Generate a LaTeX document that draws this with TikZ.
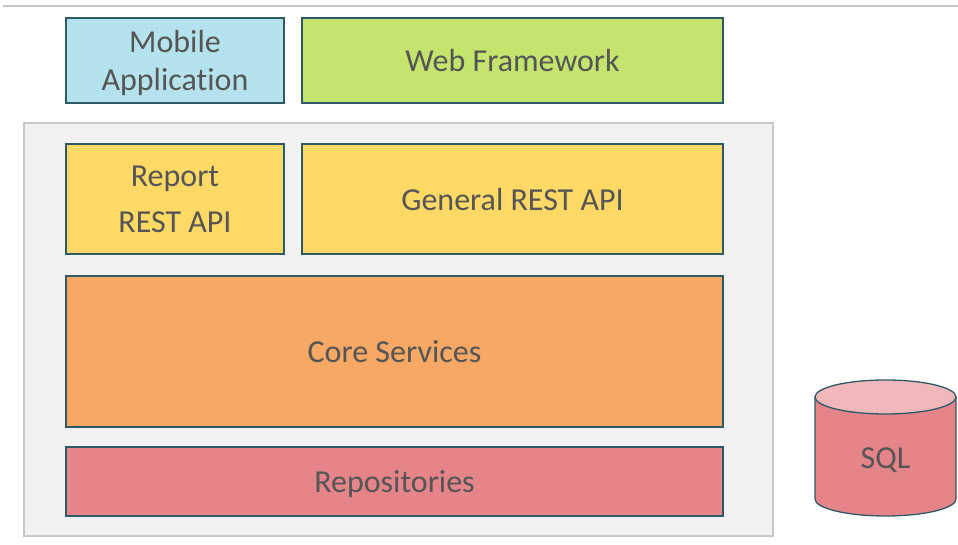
\documentclass[tikz,border=0pt]{standalone}
\usepackage{fontspec}
\setmainfont{Carlito}[Ligatures={NoCommon}]
\definecolor{txt}{HTML}{555555}
\definecolor{edge}{HTML}{2E5A68}
\definecolor{mobilec}{HTML}{B4E3EE}
\definecolor{webc}{HTML}{C4E46E}
\definecolor{apic}{HTML}{FFD966}
\definecolor{corec}{HTML}{F7A864}
\definecolor{repoc}{HTML}{E5858A}
\definecolor{sqltop}{HTML}{F0B8BA}
\definecolor{contc}{HTML}{F2F2F2}
\definecolor{contedge}{HTML}{C8C8C8}
\begin{document}
\begin{tikzpicture}[x=1pt,y=1pt,
  layer/.style={draw=edge, line width=1.3pt, rectangle, inner sep=0pt, align=center,
    text=txt, font=\fontsize{32}{38}\selectfont}]
\useasboundingbox (0,0) rectangle (958,545);
\draw[contedge, line width=1.2pt] (3,539) -- (958,539);
\node[draw=contedge, fill=contc, line width=1.2pt, rectangle, inner sep=0pt,
  minimum width=749pt, minimum height=413pt] (container) at (398.5,215.5) {};
\node[layer, fill=mobilec, minimum width=218pt, minimum height=85pt] (mobile) at (175,484.5) {\rule{0pt}{28pt}Mobile\\Application};
\node[layer, fill=webc, minimum width=421pt, minimum height=85pt] (web) at (512.5,484.5) {Web Framework};
\node[layer, fill=apic, minimum width=218pt, minimum height=110pt] (report) at (175,346) {Report\\[8pt]REST API};
\node[layer, fill=apic, minimum width=421pt, minimum height=110pt, text depth=0pt] (general) at (512.5,346) {General REST API};
\node[layer, fill=corec, minimum width=657pt, minimum height=151pt] (core) at (394.5,193.5) {Core Services};
\node[layer, fill=repoc, minimum width=657pt, minimum height=69pt, text depth=0pt] (repo) at (394.5,63.5) {Repositories};
% SQL cylinder
\filldraw[fill=repoc, draw=edge, line width=1.3pt]
  (815,148) -- (815,46) arc[start angle=180, end angle=360, x radius=70.5pt, y radius=17pt]
  -- (956,148) -- cycle;
\filldraw[fill=sqltop, draw=edge, line width=1.3pt] (885.5,148) ellipse [x radius=70.5pt, y radius=17pt];
\node[text=txt, font=\fontsize{32}{38}\selectfont] (sql) at (885.5,85) {SQL};
\end{tikzpicture}
\end{document}
